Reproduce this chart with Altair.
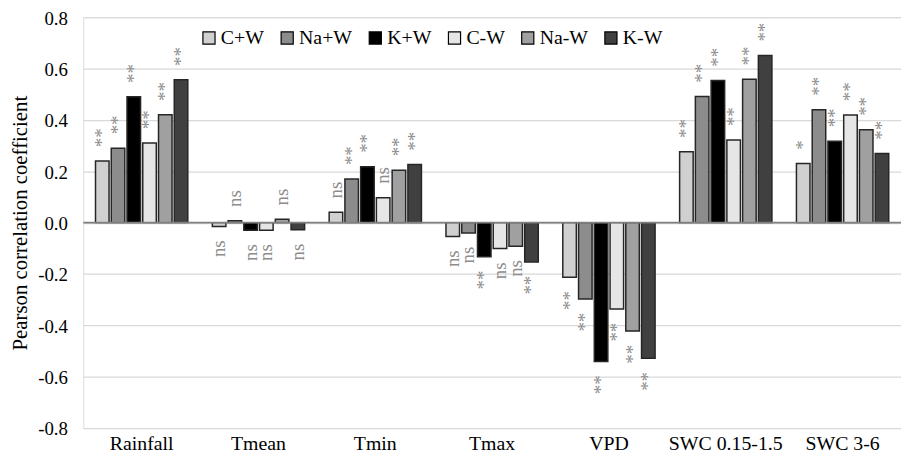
import altair as alt
import pandas as pd

categories = ["Rainfall", "Tmean", "Tmin", "Tmax", "VPD", "SWC 0.15-1.5", "SWC 3-6"]
series = ["C+W", "Na+W", "K+W", "C-W", "Na-W", "K-W"]

vals_cw = [0.240, -0.015, 0.040, -0.054, -0.213, 0.276, 0.230]
vals_naw = [0.290, 0.007, 0.170, -0.040, -0.297, 0.491, 0.440]
vals_kw = [0.490, -0.030, 0.218, -0.133, -0.541, 0.553, 0.317]
vals_c_w = [0.310, -0.030, 0.097, -0.101, -0.336, 0.322, 0.419]
vals_na_w = [0.420, 0.013, 0.204, -0.092, -0.422, 0.558, 0.362]
vals_k_w = [0.556, -0.028, 0.226, -0.153, -0.528, 0.651, 0.269]

sig_cw = ["**", "ns", "ns", "ns", "**", "**", "*"]
sig_naw = ["**", "ns", "**", "ns", "**", "**", "**"]
sig_kw = ["**", "ns", "**", "**", "**", "**", "**"]
sig_c_w = ["**", "ns", "ns", "ns", "**", "**", "**"]
sig_na_w = ["**", "ns", "**", "ns", "**", "**", "**"]
sig_k_w = ["**", "ns", "**", "**", "**", "**", "**"]

fills = ["#d0d0d0", "#8c8c8c", "#000000", "#e6e6e6", "#a0a0a0", "#404040"]

all_vals = [vals_cw, vals_naw, vals_kw, vals_c_w, vals_na_w, vals_k_w]
all_sig = [sig_cw, sig_naw, sig_kw, sig_c_w, sig_na_w, sig_k_w]

rows = []
for s, vs, sg in zip(series, all_vals, all_sig):
    for c, v, g in zip(categories, vs, sg):
        rows.append({"category": c, "series": s, "value": v, "sig": g})
df = pd.DataFrame(rows)

FONT = "Liberation Serif"

x_enc = alt.X("category:N", sort=categories, title=None,
              scale=alt.Scale(paddingInner=0.21, paddingOuter=0.105),
              axis=alt.Axis(labelAngle=0, labelFontSize=20, labelFont=FONT,
                            labelColor="#000000", ticks=False, domain=False,
                            labelPadding=6))
xo_enc = alt.XOffset("series:N", sort=series,
                     scale=alt.Scale(paddingInner=0.14, paddingOuter=0.0))
y_scale = alt.Scale(domain=[-0.8, 0.8], nice=False)

base = alt.Chart(df)

bars = base.mark_bar(stroke="#262626", strokeWidth=1.5).encode(
    x=x_enc,
    xOffset=xo_enc,
    y=alt.Y("value:Q", scale=y_scale, title="Pearson correlation coefficient",
            axis=alt.Axis(values=[-0.8, -0.6, -0.4, -0.2, 0.0, 0.2, 0.4, 0.6, 0.8],
                          labelExpr="(datum.value < -0.0001 ? '-' : '') + format(abs(datum.value), '.1f')",
                          labelFontSize=19, labelFont=FONT, labelColor="#000000",
                          labelOffset=1,
                          titleFontSize=21, titleFont=FONT, titleFontWeight="normal",
                          titleColor="#000000", titlePadding=7,
                          ticks=False, domain=False, labelPadding=16,
                          grid=True, gridColor="#d9d9d9", gridWidth=1.2)),
    color=alt.Color("series:N", sort=series,
                    scale=alt.Scale(domain=series, range=fills),
                    legend=alt.Legend(title=None, orient="none", direction="horizontal",
                                      legendX=117, legendY=11, columns=6,
                                      symbolType="square", symbolSize=150,
                                      symbolStrokeColor="#000000", symbolStrokeWidth=1.2,
                                      labelFontSize=20, labelFont=FONT, labelColor="#000000",
                                      labelOffset=2, columnPadding=13, padding=0)),
)

zero = alt.Chart(pd.DataFrame({"z": [0.0]})).mark_rule(color="#808080", strokeWidth=1.8).encode(
    y=alt.Y("z:Q", scale=y_scale)
)

txt_pos = base.transform_filter("datum.value >= 0").mark_text(
    angle=270, align="left", baseline="middle", dx=14, fontSize=19,
    font=FONT, color="#8c8c8c"
).encode(x=x_enc, xOffset=xo_enc, y=alt.Y("value:Q", scale=y_scale), text="sig:N")

txt_neg = base.transform_filter("datum.value < 0").mark_text(
    angle=270, align="right", baseline="middle", dx=-14, fontSize=19,
    font=FONT, color="#8c8c8c"
).encode(x=x_enc, xOffset=xo_enc, y=alt.Y("value:Q", scale=y_scale), text="sig:N")

chart = alt.layer(bars, zero, txt_pos, txt_neg).properties(
    width=826, height=415,
    autosize=alt.AutoSizeParams(type="none"),
    padding={"left": 76, "top": 7, "right": 0, "bottom": 31},
).configure_view(stroke="#7f7f7f", strokeWidth=2).configure(background="white")

chart.save("out.html", embed_options={"renderer": "svg", "actions": False})
